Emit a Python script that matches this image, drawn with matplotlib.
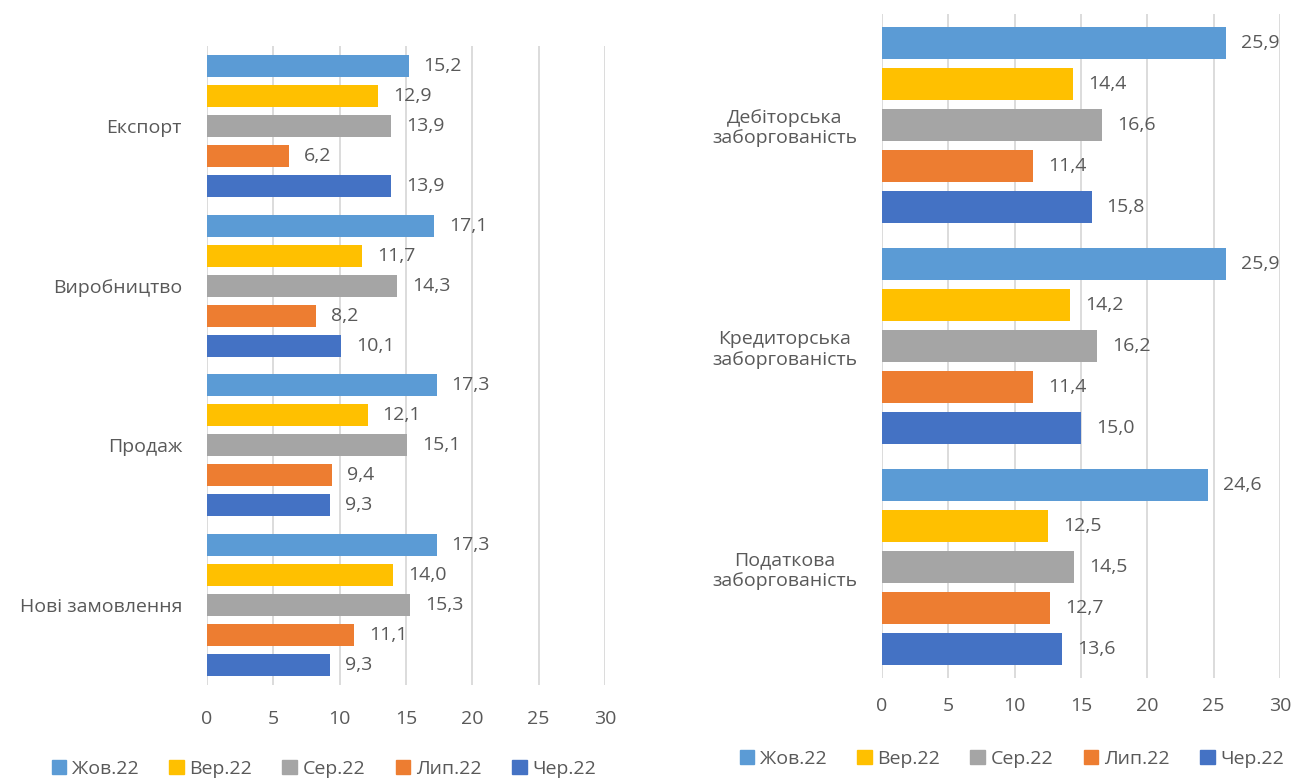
import matplotlib
matplotlib.use("Agg")
import matplotlib.pyplot as plt
import numpy as np

plt.rcParams['font.family'] = ['Open Sans', 'DejaVu Sans']

series = ["Жов.22", "Вер.22", "Сер.22", "Лип.22", "Чер.22"]
colors = ["#5B9BD5", "#FFC000", "#A5A5A5", "#ED7D31", "#4472C4"]

left_cats = ["Експорт", "Виробництво", "Продаж", "Нові замовлення"]
left_vals = {
    "Жов.22": [15.2, 17.1, 17.3, 17.3],
    "Вер.22": [12.9, 11.7, 12.1, 14.0],
    "Сер.22": [13.9, 14.3, 15.1, 15.3],
    "Лип.22": [6.2, 8.2, 9.4, 11.1],
    "Чер.22": [13.9, 10.1, 9.3, 9.3],
}

right_cats = ["Дебіторська\nзаборгованість", "Кредиторська\nзаборгованість", "Податкова\nзаборгованість"]
right_vals = {
    "Жов.22": [25.9, 25.9, 24.6],
    "Вер.22": [14.4, 14.2, 12.5],
    "Сер.22": [16.6, 16.2, 14.5],
    "Лип.22": [11.4, 11.4, 12.7],
    "Чер.22": [15.8, 15.0, 13.6],
}

xticks = [0, 5, 10, 15, 20, 25, 30]
TXT = "#595959"
FS = 14

W, H = 1295, 779
fig = plt.figure(figsize=(W / 100, H / 100), dpi=100)


def draw(rect, cats, vals, step, height, tickpad, legend_xy):
    ax = fig.add_axes(rect)
    n = len(cats)
    centers = np.arange(n)
    for i, s in enumerate(series):
        off = (i - 2) * step
        ys = centers + off
        ax.barh(ys, vals[s], height=height, color=colors[i], zorder=3, label=s)
        for y, v in zip(ys, vals[s]):
            ax.annotate(f"{v:.1f}".replace(".", ","), (v, y), xytext=(15, 0),
                        textcoords="offset pixels",
                        va="center", ha="left", fontsize=FS, color=TXT)
    ax.set_ylim(n - 0.5, -0.5)
    ax.set_xlim(0, 30)
    ax.set_xticks(xticks)
    ax.set_xticklabels([str(t) for t in xticks], fontsize=FS, color=TXT)
    ax.set_yticks(centers)
    ax.set_yticklabels(cats, fontsize=FS, color=TXT, multialignment="center")
    ax.tick_params(axis="both", length=0)
    ax.tick_params(axis="x", pad=tickpad)
    ax.tick_params(axis="y", pad=18)
    ax.grid(axis="x", color="#D9D9D9", linewidth=1.3, zorder=0)
    for sp in ax.spines.values():
        sp.set_visible(False)
    handles = [plt.Rectangle((0, 0), 1, 1, color=c) for c in colors]
    fig.legend(handles, series, loc="center",
               bbox_to_anchor=(legend_xy[0] / W, 1 - legend_xy[1] / H),
               ncol=5, frameon=False, fontsize=FS, labelcolor=TXT,
               handlelength=0.75, handleheight=0.75, handletextpad=0.3,
               columnspacing=1.55, borderpad=0, borderaxespad=0)
    return ax


# left chart
l0, l1 = 207, 605
t0, b0 = 46, 685
draw([l0 / W, 1 - b0 / H, (l1 - l0) / W, (b0 - t0) / H], left_cats, left_vals,
     30 / 160, 22 / 160, 18, (324, 769))

# right chart
r0, r1 = 882, 1280
t1, b1 = 14, 678
draw([r0 / W, 1 - b1 / H, (r1 - r0) / W, (b1 - t1) / H], right_cats, right_vals,
     41 / 221, 32 / 221, 14, (1012, 759))

fig.savefig("out.png", dpi=100)
